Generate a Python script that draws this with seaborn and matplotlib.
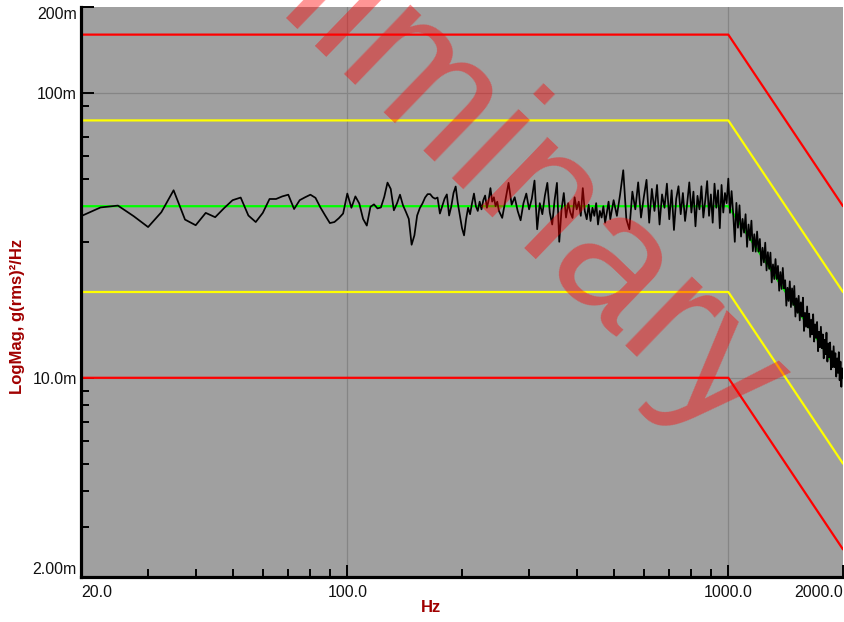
import numpy as np
import pandas as pd
import matplotlib
matplotlib.use('Agg')
import matplotlib.pyplot as plt
import matplotlib.ticker as mticker
import seaborn as sns

psd_lo = [  # 20 - 250 Hz, 2.5 Hz bins
    36.9, 39.6, 40.2, 36.9, 33.8, 38.1, 45.5, 35.9, 34.3, 37.9,
    36.6, 39.4, 42.0, 42.9, 37.1, 35.2, 37.9, 42.4, 42.4, 43.3,
    43.9, 39.1, 42.0, 43.0, 43.9, 42.8, 39.6, 37.1, 34.9, 35.2,
    36.3, 37.7, 44.3, 39.5, 43.3, 40.9, 36.1, 34.2, 39.8, 40.6,
    39.3, 39.6, 43.1, 48.4, 46.0, 38.7, 40.9, 43.9, 40.3, 38.2,
    36.1, 29.3, 31.6, 37.1, 39.4, 40.9, 42.9, 44.1, 44.1, 43.0,
    42.5, 42.9, 37.7, 40.0, 42.5, 44.0, 37.1, 40.0, 44.5, 46.9,
    41.0, 37.0, 33.5, 31.6, 36.0, 39.5, 37.5, 41.0, 44.3, 40.0,
    38.5, 41.5, 39.0, 42.0, 43.6, 39.5, 42.0, 46.3, 41.5, 43.0,
    40.0, 41.5, 38.5]
psd_mid = [  # 255 - 500 Hz, 5 Hz bins
    36.4, 42.0, 48.3, 40.5, 43.0, 38.5, 35.7, 41.0, 44.3, 39.0,
    42.5, 49.2, 33.2, 41.0, 37.5, 43.5, 48.3, 38.0, 34.5, 42.0,
    48.3, 30.0, 39.0, 44.5, 36.5, 41.0, 38.0, 36.4, 43.0, 39.0,
    41.5, 37.0, 46.3, 38.5, 36.0, 40.5, 35.5, 39.5, 37.0, 41.0,
    34.5, 38.5, 36.5, 40.0, 35.0, 38.0, 41.5, 36.0, 39.0, 42.0]
psd_hi = [  # 510 - 2000 Hz, 10 Hz bins
    37.0, 44.0, 53.5, 36.0, 33.2, 45.0, 39.0, 48.5, 36.5, 43.0,
    49.5, 35.0, 46.0, 38.5, 47.5, 34.5, 44.0, 39.5, 48.0, 36.0,
    45.5, 33.0, 42.5, 47.0, 37.5, 44.5, 35.5, 41.0, 48.5, 38.0,
    45.0, 34.0, 43.5, 39.0, 47.0, 36.5, 42.0, 49.0, 37.0, 44.0,
    35.0, 48.0, 39.5, 45.5, 33.5, 47.5, 38.0, 44.5, 41.0, 50.0,
    37.9, 45.2, 37.6, 30.0, 41.1, 33.6, 40.3, 31.3, 36.1, 32.3,
    37.5, 28.8, 34.5, 30.4, 35.6, 27.8, 31.9, 27.7, 32.6, 27.7,
    30.7, 24.8, 28.6, 25.4, 29.8, 23.8, 27.6, 24.1, 27.5, 21.6,
    25.0, 22.2, 26.1, 22.2, 24.7, 20.2, 23.5, 20.5, 24.3, 20.6,
    22.0, 17.9, 20.7, 18.6, 21.8, 17.7, 20.6, 18.0, 21.0, 16.4,
    19.0, 16.9, 19.4, 15.9, 18.4, 16.4, 19.1, 14.6, 16.9, 15.1,
    17.8, 15.0, 16.8, 13.9, 16.0, 14.2, 16.7, 13.4, 15.4, 13.8,
    15.7, 12.4, 14.5, 12.8, 15.1, 12.7, 14.2, 11.7, 13.6, 12.1,
    14.4, 11.4, 13.2, 11.8, 13.3, 10.7, 12.4, 10.9, 12.9, 10.9,
    12.2, 10.1, 11.7, 10.4, 12.3, 9.8, 11.4, 9.3, 10.8, 10.0]

freq = np.concatenate([np.arange(20, 250.1, 2.5),
                       np.arange(255, 500.1, 5),
                       np.arange(510, 2000.1, 10)])
psd = np.array(psd_lo + psd_mid + psd_hi) * 1e-3
assert len(freq) == len(psd)

# test profile: reference level and warning / abort limits, mg^2/Hz
prof_freq = [20, 1000, 2000]
ref_level = [40, 40, 10]
warn_hi = [80, 80, 20]
warn_lo = [20, 20, 5]
abort_hi = [160, 160, 40]
abort_lo = [10, 10, 2.5]

x_major = [20, 100, 1000, 2000]
x_labels = ['20.0', '100.0', '1000.0', '2000.0']
y_major = [0.002, 0.01, 0.1, 0.2]
y_labels = ['2.00m', '10.0m', '100m', '200m']

sns.set_style('white')
plt.rcParams['font.family'] = ['Liberation Sans', 'DejaVu Sans']

fig = plt.figure(figsize=(8.45, 6.22), dpi=100)
ax = fig.add_axes([81 / 845, 1 - 577 / 622, 762 / 845, 570 / 622])
ax.set_facecolor('#a0a0a0')

meas = pd.DataFrame({'freq': freq, 'psd': psd})
prof = pd.DataFrame({'freq': prof_freq, 'ref': np.array(ref_level) * 1e-3,
                     'warn_hi': np.array(warn_hi) * 1e-3, 'warn_lo': np.array(warn_lo) * 1e-3,
                     'abort_hi': np.array(abort_hi) * 1e-3, 'abort_lo': np.array(abort_lo) * 1e-3})

# grid only at the inner decades
for gx in [100, 1000]:
    ax.axvline(gx, color='#858585', lw=0.9, zorder=0.5)
for gy in [0.01, 0.1]:
    ax.axhline(gy, color='#858585', lw=0.9, zorder=0.5)

sns.lineplot(data=prof, x='freq', y='ref', ax=ax, color='#00ff00', lw=1.6,
             estimator=None, sort=False, zorder=3)
for col, c in [('warn_hi', '#ffff00'), ('warn_lo', '#ffff00'),
               ('abort_hi', '#ff0000'), ('abort_lo', '#ff0000')]:
    sns.lineplot(data=prof, x='freq', y=col, ax=ax, color=c, lw=1.6,
                 estimator=None, sort=False, zorder=3)
sns.lineplot(data=meas, x='freq', y='psd', ax=ax, color='black', lw=1.25,
             estimator=None, sort=False, zorder=3.5)

ax.set_xscale('log')
ax.set_yscale('log')
ax.set_xlim(20, 2000)
ax.set_ylim(0.002, 0.2)

ax.xaxis.set_major_locator(mticker.FixedLocator(x_major))
ax.xaxis.set_major_formatter(mticker.FixedFormatter(x_labels))
ax.xaxis.set_minor_locator(mticker.FixedLocator(
    [30, 40, 50, 60, 70, 80, 90, 200, 300, 400, 500, 600, 700, 800, 900]))
ax.xaxis.set_minor_formatter(mticker.NullFormatter())
ax.yaxis.set_major_locator(mticker.FixedLocator(y_major))
ax.yaxis.set_major_formatter(mticker.FixedFormatter(y_labels))
# minor ticks under the 20m / 40m / 80m limit lines are hidden in the original
ax.yaxis.set_minor_locator(mticker.FixedLocator(
    [0.003, 0.004, 0.005, 0.006, 0.007, 0.008, 0.009,
     0.03, 0.05, 0.06, 0.07, 0.09]))
ax.yaxis.set_minor_formatter(mticker.NullFormatter())

ax.grid(False)
for s in ['top', 'right']:
    ax.spines[s].set_visible(False)
for s in ['left', 'bottom']:
    ax.spines[s].set_color('black')
    ax.spines[s].set_linewidth(2.3)
    ax.spines[s].set_zorder(5)

ax.tick_params(which='both', direction='in', color='black', width=1.4,
               left=True, bottom=True, top=False, right=False,
               labelsize=11.5, labelcolor='#111111')
ax.tick_params(which='major', length=9)
ax.tick_params(which='minor', length=6)
ax.tick_params(axis='x', pad=6)
ax.tick_params(axis='y', pad=3)

xt = ax.get_xticklabels()
xt[0].set_ha('left')
xt[-1].set_ha('right')
yt = ax.get_yticklabels()
yt[0].set_va('bottom')
yt[-1].set_va('top')

ax.set_xlabel('')
ax.set_ylabel('')
fig.text(431 / 845, 1 - 608 / 622, 'Hz', ha='center', va='center',
         fontsize=12, fontweight='bold', color='#a00000')
fig.text(18 / 845, 1 - 394 / 622, 'LogMag, g(rms)²/Hz', rotation=90,
         ha='center', va='bottom', fontsize=12, fontweight='bold', color='#a00000')

# watermark
fig.text(428 / 845, 1 - 104 / 622, 'Preliminary', fontsize=130, color='red',
         alpha=0.42, rotation=-44, ha='center', va='center', zorder=10)

fig.savefig('out.png', dpi=100)
